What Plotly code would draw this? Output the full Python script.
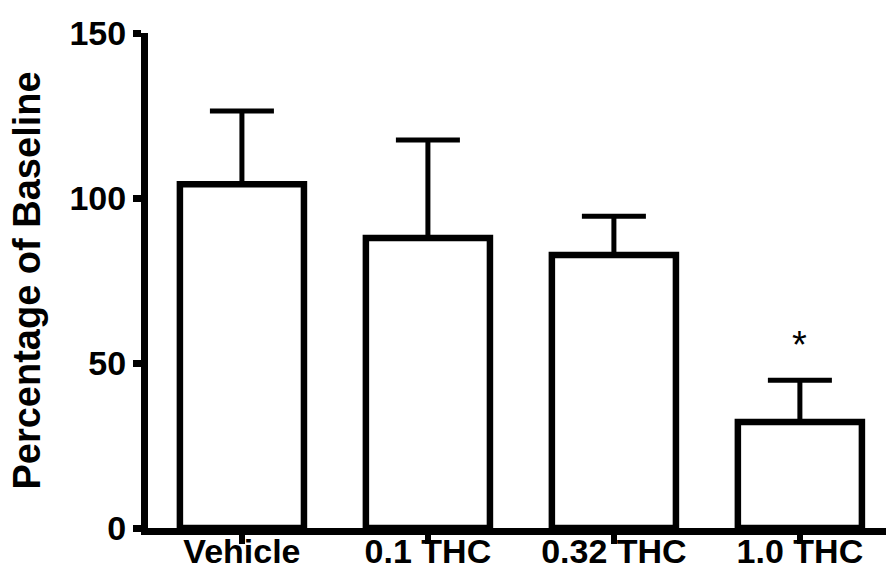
import plotly.graph_objects as go

categories = ["Vehicle", "0.1 THC", "0.32 THC", "1.0 THC"]
means = [104.2, 87.9, 82.7, 32.1]
sem_up = [22.2, 29.7, 11.8, 12.7]
y_ticks = [0, 50, 100, 150]
sig_marks = ["", "", "", "*"]
sig_y = [None, None, None, 55.5]

FONT = "Liberation Sans, Arial, sans-serif"

fig = go.Figure()
fig.add_trace(go.Bar(
    x=categories, y=means, width=0.667,
    marker=dict(color="white", line=dict(color="black", width=6.5)),
    error_y=dict(type="data", array=sem_up, arrayminus=[0] * len(means),
                 symmetric=False, color="black", thickness=5, width=32),
    showlegend=False,
))
for c, m, yy in zip(categories, sig_marks, sig_y):
    if m:
        fig.add_annotation(x=c, y=yy, text=m, showarrow=False,
                           font=dict(family=FONT, size=38, color="black"))

fig.update_layout(
    width=886, height=575,
    margin=dict(l=148, r=0, t=33, b=47),
    paper_bgcolor="white", plot_bgcolor="white",
    font=dict(family=FONT, color="black"),
    xaxis=dict(range=[-0.505, 3.463], showline=True, linecolor="black", linewidth=7,
               ticks="outside", ticklen=9, tickwidth=6, tickcolor="black",
               tickfont=dict(size=34, family=FONT, weight="bold"),
               ticklabelstandoff=-22,
               showgrid=False, zeroline=False, automargin=False),
    yaxis=dict(range=[0, 150], tickvals=y_ticks, showline=True, linecolor="black", linewidth=7,
               ticks="outside", ticklen=8, tickwidth=7, tickcolor="black",
               tickfont=dict(size=34, family=FONT, weight="bold"),
               title=dict(text="<b>Percentage of Baseline</b>", font=dict(size=38, family=FONT),
                          standoff=20),
               showgrid=False, zeroline=False, automargin=False),
)
fig.write_html("out.html")
